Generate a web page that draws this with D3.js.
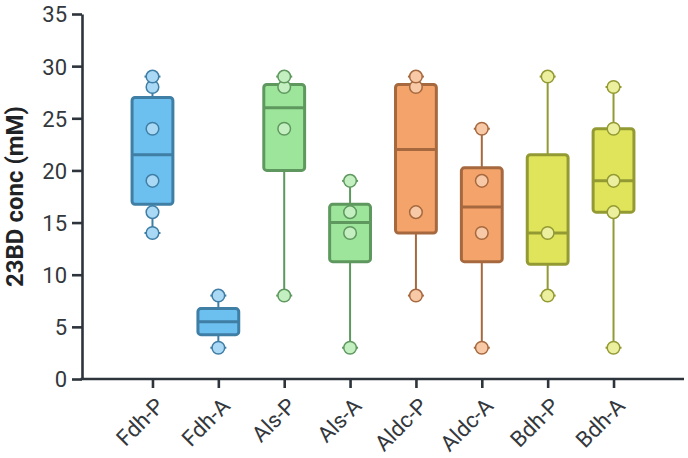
<!DOCTYPE html>
<html>
<head>
<meta charset="utf-8">
<script src="https://cdn.jsdelivr.net/npm/d3@7"></script>
<style>
  body { margin: 0; background: #fff; }
  svg text { font-family: Roboto, "Noto Sans", sans-serif; }
</style>
</head>
<body>
<svg id="chart" width="688" height="458"></svg>
<script>
// categories and the measured values of each group
let categories = ["Fdh-P", "Fdh-A", "Als-P", "Als-A", "Aldc-P", "Aldc-A", "Bdh-P", "Bdh-A"]
let fdhP = [14, 16, 19, 24, 28, 29]
let fdhA = [3, 8]
let alsP = [8, 24, 28, 29]
let alsA = [3, 14, 16, 19]
let aldcP = [8, 16, 28, 29]
let aldcA = [3, 14, 19, 24]
let bdhP = [8, 14, 29]
let bdhA = [3, 16, 19, 24, 28]
let yTicks = [0, 5, 10, 15, 20, 25, 30, 35]

let groups = [fdhP, fdhA, alsP, alsA, aldcP, aldcA, bdhP, bdhA]

// colour per enzyme: box fill, outline, point fill
let palette = {
    Fdh: { fill: "#6cc0ef", stroke: "#3f7ea5", point: "#aad9f5" },
    Als: { fill: "#9de59a", stroke: "#5e985f", point: "#c4efc0" },
    Aldc: { fill: "#f4a46b", stroke: "#a6693f", point: "#f8c9a6" },
    Bdh: { fill: "#e0e45a", stroke: "#939a33", point: "#ecef9e" }
}

let svg = d3.select("#chart")
let margin = { top: 14, left: 82, right: 4, bottom: 79 }
let width = 688 - margin.left - margin.right
let height = 458 - margin.top - margin.bottom

let g = svg.append("g")
    .attr("transform", "translate(" + margin.left + "," + margin.top + ")")

let x = d3.scalePoint()
    .domain(categories)
    .range([0, width])
    .padding(1.07)

let y = d3.scaleLinear()
    .domain([0, 35])
    .range([height, 0])

let boxWidth = x.step() * 0.62
let capWidth = 16
let axisColor = "#2d343c"

let stats = categories.map((c, i) => {
    let v = groups[i].slice().sort(d3.ascending)
    return {
        name: c,
        key: c.split("-")[0],
        values: v,
        min: v[0],
        max: v[v.length - 1],
        q1: d3.quantile(v, 0.25),
        med: d3.quantile(v, 0.5),
        q3: d3.quantile(v, 0.75)
    }
})

let boxes = g.selectAll(".box")
    .data(stats)
    .enter().append("g")
    .attr("class", "box")
    .attr("transform", d => "translate(" + x(d.name) + ",0)")

// whisker
boxes.append("line")
    .attr("y1", d => y(d.min))
    .attr("y2", d => y(d.max))
    .style("stroke", d => palette[d.key].stroke)
    .style("stroke-width", 2)

boxes.selectAll(".cap")
    .data(d => [d.min, d.max].map(v => ({ v: v, key: d.key })))
    .enter().append("line")
    .attr("x1", -capWidth / 2)
    .attr("x2", capWidth / 2)
    .attr("y1", d => y(d.v))
    .attr("y2", d => y(d.v))
    .style("stroke", d => palette[d.key].stroke)
    .style("stroke-width", 2)

boxes.append("rect")
    .attr("x", -boxWidth / 2)
    .attr("width", boxWidth)
    .attr("y", d => y(d.q3))
    .attr("height", d => y(d.q1) - y(d.q3))
    .attr("rx", 3)
    .style("fill", d => palette[d.key].fill)
    .style("stroke", d => palette[d.key].stroke)
    .style("stroke-width", 3)

boxes.append("line")
    .attr("x1", -boxWidth / 2)
    .attr("x2", boxWidth / 2)
    .attr("y1", d => y(d.med))
    .attr("y2", d => y(d.med))
    .style("stroke", d => palette[d.key].stroke)
    .style("stroke-width", 3)

boxes.selectAll("circle")
    .data(d => d.values.map(v => ({ v: v, key: d.key })))
    .enter().append("circle")
    .attr("cx", 0)
    .attr("cy", d => y(d.v))
    .attr("r", 6.3)
    .style("fill", d => palette[d.key].point)
    .style("stroke", d => palette[d.key].stroke)
    .style("stroke-width", 1.5)

// axes
let yAxis = d3.axisLeft(y)
    .tickValues(yTicks)
    .tickSize(10)
    .tickSizeOuter(0)
    .tickPadding(5)

let xAxis = d3.axisBottom(x)
    .tickSize(9)
    .tickSizeOuter(0)

let gY = g.append("g").call(yAxis)
let gX = g.append("g")
    .attr("transform", "translate(0," + height + ")")
    .call(xAxis)

gX.select(".domain").attr("d", "M-1.5,0H" + width)

;[gX, gY].forEach(ax => {
    ax.select(".domain").style("stroke", axisColor).style("stroke-width", 2.6)
    ax.selectAll(".tick line").style("stroke", axisColor).style("stroke-width", 2.6)
    ax.selectAll(".tick text")
        .style("fill", "#33383d")
        .style("font-size", "22px")
})

gY.selectAll(".tick text").attr("dy", "0.36em")

gX.selectAll(".tick text")
    .attr("y", 0)
    .attr("x", 0)
    .attr("dy", "0.35em")
    .attr("transform", "translate(7,23) rotate(-45)")
    .style("text-anchor", "end")

svg.append("text")
    .attr("transform", "rotate(-90)")
    .attr("x", -(margin.top + height / 2))
    .attr("y", 15)
    .attr("dy", "0.35em")
    .style("text-anchor", "middle")
    .style("font-weight", "bold")
    .style("font-size", "24px")
    .style("fill", "#1f2326")
    .text("23BD conc (mM)")
</script>
</body>
</html>
